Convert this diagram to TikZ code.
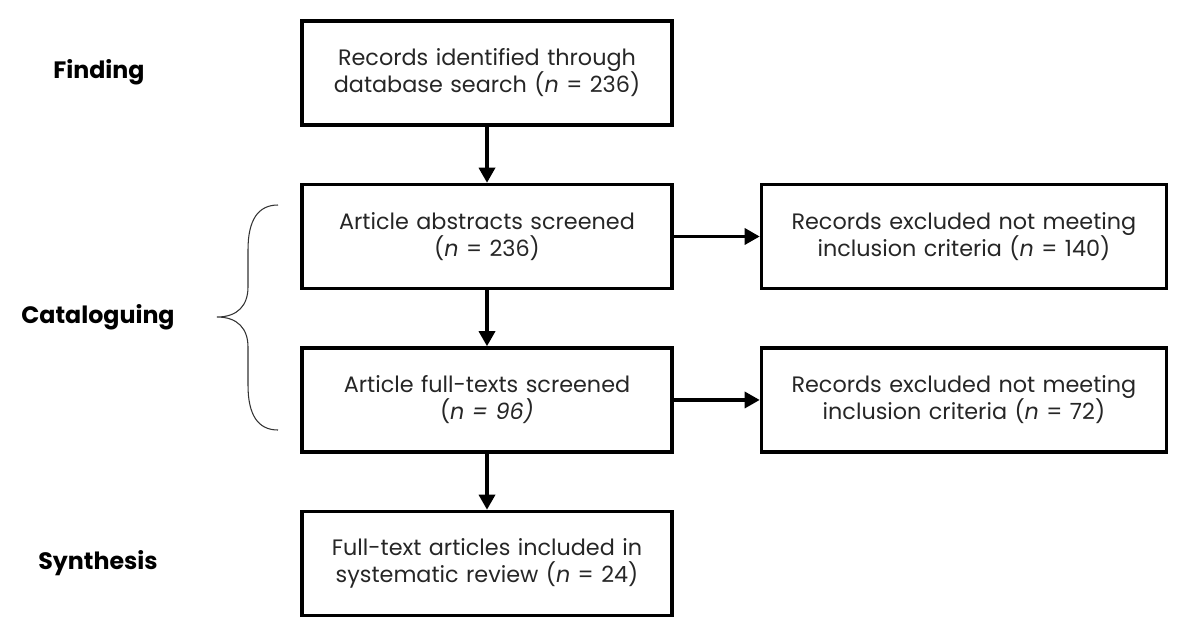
\documentclass[tikz,border=0pt]{standalone}
\usepackage{fontspec}
\setmainfont{Poppins}
\usetikzlibrary{arrows.meta, positioning}

\begin{document}
\begin{tikzpicture}[
        x=0.02cm, y=-0.02cm,
        box/.style={draw=black, line width=2pt, fill=white, text=black!85,
                    text width=6.9cm, align=center, minimum width=7.4cm,
                    minimum height=2.08cm, font=\fontsize{12.7}{15.4}\selectfont},
        widebox/.style={box, text width=7.6cm, minimum width=8.1cm},
        phase/.style={font=\fontsize{13.5}{16}\selectfont\bfseries},
        arr/.style={-{Triangle[length=0.3cm, width=0.32cm]}, line width=1.9pt}
    ]
        \useasboundingbox (0,0) rectangle (1200,630);
        \node[box] (found) at (487,73) {Records identified through\\database search (\textit{n} = 236)};
        \node[box, below=1.12cm of found] (abstr) {Article abstracts screened\\(\textit{n} = 236)};
        \node[box, below=1.12cm of abstr] (fulltxt) {Article full-texts screened\\(\textit{n = 96)}};
        \node[box, below=1.12cm of fulltxt] (incl) {Full-text articles included in\\systematic review (\textit{n} = 24)};
        \node[widebox, right=1.72cm of abstr] (excla) {Records excluded not meeting\\inclusion criteria (\textit{n} = 140)};
        \node[widebox, right=1.72cm of fulltxt] (exclb) {Records excluded not meeting\\inclusion criteria (\textit{n} = 72)};
        % phase labels
        \node[phase] (finding) at (99,72) {Finding};
        \node[phase] (catal) at (98,317) {Cataloguing};
        \node[phase] (synth) at (98,563) {Synthesis};
        \draw[arr] (found) -- (abstr);
        \draw[arr] (abstr) -- (fulltxt);
        \draw[arr] (fulltxt) -- (incl);
        \draw[arr] (abstr) -- (excla);
        \draw[arr] (fulltxt) -- (exclb);
        % brace
        \draw[line width=0.6pt, black!80] (278,205) .. controls (258,205) and (248,220) .. (248,250)
            -- (248,287) .. controls (248,305) and (238,317) .. (217,317)
            .. controls (238,317) and (248,329) .. (248,347)
            -- (248,385) .. controls (248,415) and (258,430) .. (278,430);
    \end{tikzpicture}
\end{document}
